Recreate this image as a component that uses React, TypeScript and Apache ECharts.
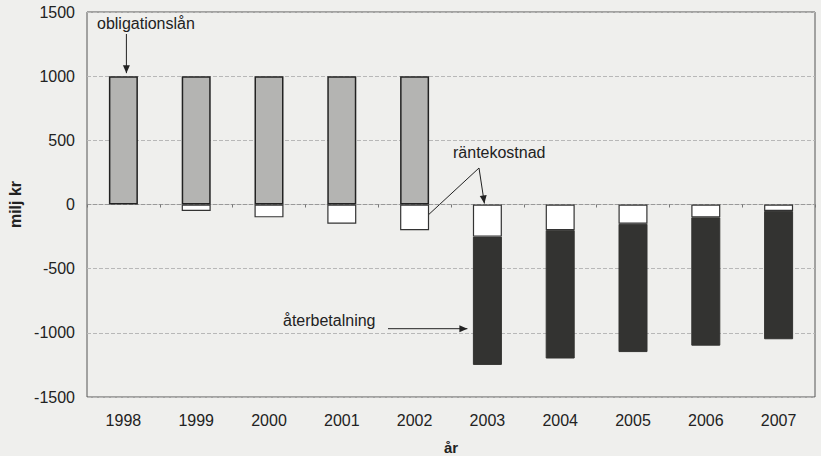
import React, { useEffect, useRef } from "react";
import * as echarts from "echarts";

const years = ["1998", "1999", "2000", "2001", "2002", "2003", "2004", "2005", "2006", "2007"];
const obligationslan = [1000, 1000, 1000, 1000, 1000, null, null, null, null, null];
const rantekostnad = [null, -50, -100, -150, -200, -250, -200, -150, -100, -50];
const aterbetalning = [null, null, null, null, null, -1000, -1000, -1000, -1000, -1000];
const yTicks = { min: -1500, max: 1500, interval: 500 };

const FONT = "Liberation Sans, Arial, sans-serif";

function arrowHead(tip: number[], from: number[], size = 8, half = 3.5) {
  const dx = tip[0] - from[0];
  const dy = tip[1] - from[1];
  const len = Math.sqrt(dx * dx + dy * dy) || 1;
  const ux = dx / len, uy = dy / len;
  const bx = tip[0] - ux * size, by = tip[1] - uy * size;
  return {
    type: "polygon",
    shape: { points: [tip, [bx - uy * half, by + ux * half], [bx + uy * half, by - ux * half]] },
    style: { fill: "#222" },
    silent: true,
  };
}

function arrow(from: number[], to: number[]) {
  return [
    { type: "line", shape: { x1: from[0], y1: from[1], x2: to[0], y2: to[1] }, style: { stroke: "#222", lineWidth: 1 }, silent: true },
    arrowHead(to, from),
  ];
}

export default function App() {
  const ref = useRef<HTMLDivElement>(null);
  useEffect(() => {
    document.body.style.margin = "0";
    const chart = echarts.init(ref.current!, null, { renderer: "svg" });
    const option: any = {
      animation: false,
      backgroundColor: "#efefed",
      textStyle: { fontFamily: FONT },
      grid: {
        left: 87, right: 6, top: 12, bottom: 59, show: true, borderColor: "#555", borderWidth: 1,
        backgroundColor: "#efefed", outerBoundsMode: "none", containLabel: false,
      },
      xAxis: [
        {
          type: "category",
          data: years,
          position: "bottom",
          axisLine: { show: false, onZero: false },
          axisTick: { show: false },
          axisLabel: { color: "#222", fontSize: 16, margin: 15, fontFamily: FONT },
          name: "år",
          nameLocation: "middle",
          nameGap: 43,
          nameTextStyle: { fontWeight: "bold", fontSize: 15, color: "#222", fontFamily: FONT },
        },
        {
          type: "category",
          data: years,
          position: "bottom",
          axisLine: { show: true, onZero: true, lineStyle: { color: "#999", type: "dashed", width: 1 } },
          axisTick: { show: true, length: 3, lineStyle: { color: "#777" } },
          axisLabel: { show: false },
        },
      ],
      yAxis: {
        type: "value",
        min: yTicks.min,
        max: yTicks.max,
        interval: yTicks.interval,
        axisLine: { show: false },
        axisTick: { show: false },
        axisLabel: { color: "#222", fontSize: 16, margin: 12, fontFamily: FONT, formatter: (v: number) => String(v) },
        splitLine: { show: true, lineStyle: { color: "#b8b8b8", type: "dashed", width: 1 } },
        name: "milj kr",
        nameLocation: "middle",
        nameGap: 60,
        nameTextStyle: { fontWeight: "bold", fontSize: 16, color: "#222", fontFamily: FONT },
      },
      series: [
        {
          name: "obligationslån",
          type: "bar",
          stack: "a",
          data: obligationslan,
          barWidth: 29,
          itemStyle: { color: "#b4b4b2", borderColor: "#222", borderWidth: 1.5 },
        },
        {
          name: "räntekostnad",
          type: "bar",
          stack: "a",
          data: rantekostnad,
          barWidth: 29,
          itemStyle: { color: "#ffffff", borderColor: "#333", borderWidth: 1.2 },
        },
        {
          name: "återbetalning",
          type: "bar",
          stack: "a",
          data: aterbetalning,
          barWidth: 29,
          itemStyle: { color: "#333331", borderColor: "#333331", borderWidth: 1 },
        },
      ],
    };
    chart.setOption(option);

    const px = (cat: string, v: number) => chart.convertToPixel({ xAxisIndex: 0, yAxisIndex: 0 }, [cat, v]) as number[];
    const p1998 = px("1998", 1000);
    const p2002 = px("2002", -150);
    const p2003 = px("2003", 0);
    const pRep = px("2003", -960);
    const graphic: any[] = [
      { type: "text", x: 97, y: 23, style: { text: "obligationslån", font: `16px ${FONT}`, fill: "#222", textVerticalAlign: "middle" }, silent: true },
      ...arrow([p1998[0] + 3, 34], [p1998[0] + 3, p1998[1] - 3]),
      { type: "text", x: 453, y: 152, style: { text: "räntekostnad", font: `16px ${FONT}`, fill: "#222", textVerticalAlign: "middle" }, silent: true },
      ...arrow([479, 168], [p2002[0] + 2, p2002[1] + 2]),
      ...arrow([479, 168], [p2003[0] - 3, p2003[1] - 1]),
      { type: "text", x: 283, y: 320, style: { text: "återbetalning", font: `16px ${FONT}`, fill: "#222", textVerticalAlign: "middle" }, silent: true },
      ...arrow([388, pRep[1] + 1], [p2003[0] - 20, pRep[1] + 1]),
    ];
    chart.setOption({ graphic });
    return () => chart.dispose();
  }, []);
  return <div ref={ref} style={{ width: 821, height: 456 }} />;
}
